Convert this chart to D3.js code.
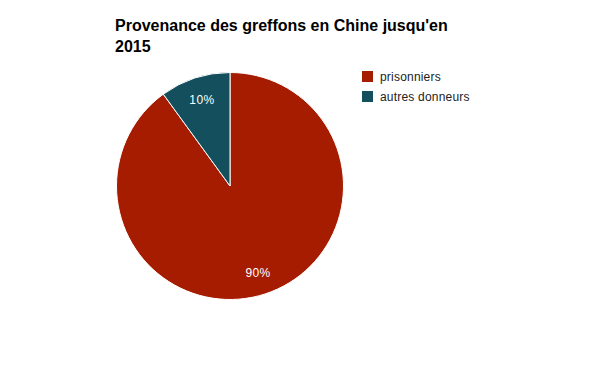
<!DOCTYPE html>
<html>
<head>
<meta charset="utf-8">
<script src="https://cdn.jsdelivr.net/npm/d3@7"></script>
<style>
  body { margin: 0; background: #fff; }
  svg { font-family: "Liberation Sans", Arial, sans-serif; }
</style>
</head>
<body>
<svg width="600" height="371"></svg>
<script>
const categories = ["prisonniers", "autres donneurs"];
const values = [90, 10];
const colors = ["#a61c00", "#134f5c"];
const titleLines = ["Provenance des greffons en Chine jusqu'en", "2015"];

const svg = d3.select("svg");
const data = categories.map((c, i) => ({ name: c, value: values[i], color: colors[i] }));

// title
svg.append("text")
    .attr("x", 115)
    .attr("y", 31)
    .attr("font-size", 16)
    .attr("font-weight", "bold")
    .attr("fill", "#000")
    .selectAll("tspan")
    .data(titleLines)
    .join("tspan")
    .attr("x", 115)
    .attr("dy", (d, i) => i === 0 ? 0 : 21)
    .text(d => d);

const cx = 230, cy = 186, r = 113.5;
const g = svg.append("g").attr("transform", `translate(${cx},${cy})`);

const pie = d3.pie().sort(null).value(d => d.value);
const arc = d3.arc().innerRadius(0).outerRadius(r);
const labelArc = d3.arc().innerRadius(r * 0.8).outerRadius(r * 0.8);
const total = d3.sum(values);

const arcs = pie(data);

g.selectAll("path")
    .data(arcs)
    .join("path")
    .attr("d", arc)
    .attr("fill", d => d.data.color)
    .attr("stroke", "#fff")
    .attr("stroke-width", 1);

// percentage labels
g.selectAll("text.lbl")
    .data(arcs)
    .join("text")
    .attr("class", "lbl")
    .attr("transform", d => `translate(${labelArc.centroid(d)})`)
    .attr("text-anchor", "middle")
    .attr("dy", "0.35em")
    .attr("font-size", 12)
    .attr("letter-spacing", 0.4)
    .attr("fill", "#fff")
    .text(d => Math.round(d.data.value / total * 100) + "%");

// legend
const legend = svg.append("g").attr("transform", "translate(362,71)");
const item = legend.selectAll("g")
    .data(data)
    .join("g")
    .attr("transform", (d, i) => `translate(0,${i * 20})`);

item.append("rect")
    .attr("width", 11)
    .attr("height", 11)
    .attr("fill", d => d.color);

item.append("text")
    .attr("x", 18)
    .attr("y", 10)
    .attr("font-size", 12)
    .attr("letter-spacing", 0.2)
    .attr("fill", "#222")
    .text(d => d.name);
</script>
</body>
</html>
